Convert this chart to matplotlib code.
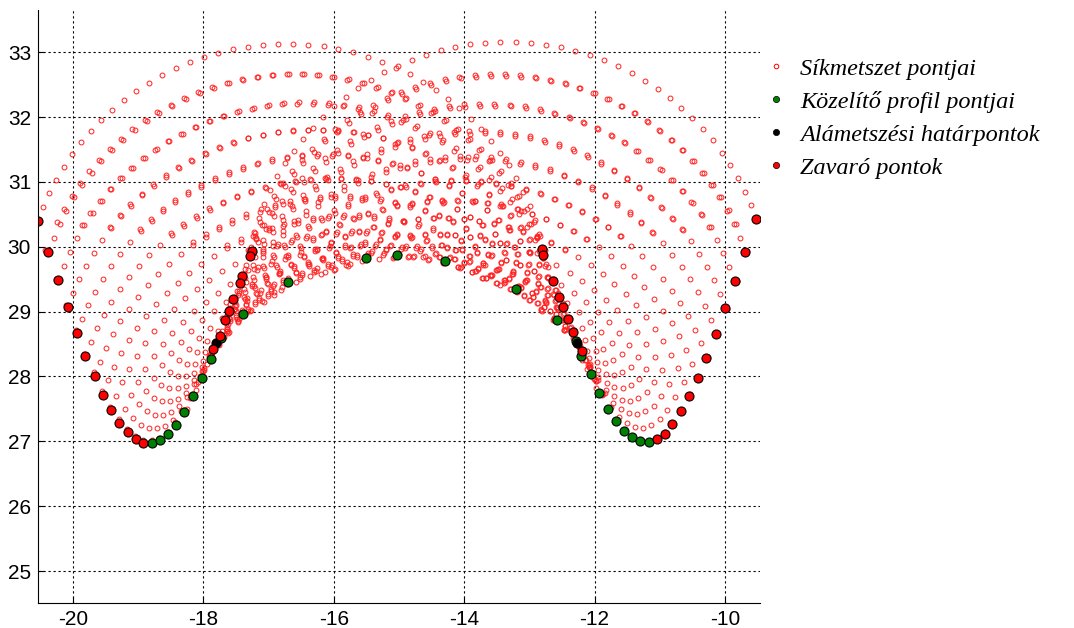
import numpy as np
import matplotlib.pyplot as plt
from matplotlib.path import Path
from matplotlib.lines import Line2D

plt.rcParams['axes.unicode_minus'] = False

# groove profiles: outer flank top -> bottom, inner flank bottom -> top
left_outer_x = [-20.54, -20.38, -20.225, -20.08, -19.94, -19.81, -19.67, -19.54, -19.42, -19.29, -19.16, -19.04, -18.92]
left_outer_y = [30.39, 29.92, 29.49, 29.07, 28.67, 28.31, 28.01, 27.72, 27.48, 27.28, 27.14, 27.03, 26.98]
left_inner_x = [-18.79, -18.67, -18.545, -18.42, -18.29, -18.16, -18.02, -17.89, -17.75, -17.60, -17.44, -17.28]
left_inner_y = [26.98, 27.02, 27.11, 27.25, 27.45, 27.70, 27.97, 28.27, 28.62, 29.01, 29.44, 29.90]
right_outer_x = [-9.525, -9.69, -9.85, -10.0, -10.14, -10.29, -10.42, -10.55, -10.68, -10.81, -10.92, -11.05, -11.17]
right_outer_y = [30.42, 29.92, 29.47, 29.05, 28.66, 28.29, 27.98, 27.70, 27.46, 27.27, 27.12, 27.03, 26.99]
right_inner_x = [-11.30, -11.42, -11.55, -11.67, -11.80, -11.93, -12.06, -12.21, -12.33, -12.48, -12.64, -12.80]
right_inner_y = [27.00, 27.06, 27.16, 27.31, 27.50, 27.75, 28.04, 28.32, 28.69, 29.07, 29.47, 29.92]

# circular translation of the profile (angles in degrees)
sweep_radius = 4.03
sweep_start = 161.3
sweep_end = 12.5
sweep_steps = 46

# approximating profile
green_x = [-18.79, -18.67, -18.545, -18.42, -18.29, -18.16, -18.02, -17.89, -17.73, -17.39, -16.70,
           -15.50, -15.03, -14.29, -13.20, -12.58, -12.29, -12.21, -12.06, -11.93, -11.80, -11.67,
           -11.55, -11.42, -11.30, -11.17]
green_y = [26.98, 27.02, 27.11, 27.25, 27.45, 27.70, 27.97, 28.27, 28.59, 28.96, 29.45,
           29.83, 29.87, 29.78, 29.35, 28.87, 28.55, 28.32, 28.04, 27.75, 27.50, 27.31,
           27.16, 27.06, 27.00, 26.99]

# undercut limit points
black_x = [-17.80, -12.27]
black_y = [28.52, 28.51]

# interfering points on the inner flanks
red_inner_x = [-17.26, -17.29, -17.41, -17.44, -17.55, -17.60, -17.67, -17.75, -17.86,
               -12.81, -12.79, -12.64, -12.54, -12.48, -12.41, -12.33, -12.19]
red_inner_y = [29.94, 29.86, 29.55, 29.44, 29.19, 29.01, 28.87, 28.62, 28.43,
               29.97, 29.88, 29.47, 29.22, 29.07, 28.89, 28.69, 28.39]
red_x = left_outer_x + right_outer_x[:-1] + red_inner_x
red_y = left_outer_y + right_outer_y[:-1] + red_inner_y


def sweep(px, py, phi):
    px, py = np.asarray(px), np.asarray(py)
    a = np.radians(phi)
    dx = sweep_radius * (np.cos(a) - np.cos(a[0]))
    dy = sweep_radius * (np.sin(a) - np.sin(a[0]))
    return (px[None, :] + dx[:, None]).ravel(), (py[None, :] + dy[:, None]).ravel()


def shrink(vx, vy, d):
    v = np.column_stack([vx, vy])
    c = v.mean(axis=0)
    w = c - v
    return v + d * w / np.linalg.norm(w, axis=1)[:, None]


uL_x, uL_y = left_outer_x + left_inner_x, left_outer_y + left_inner_y
uR_x, uR_y = right_outer_x + right_inner_x, right_outer_y + right_inner_y
path_L = Path(shrink(uL_x, uL_y, 0.05))
path_R = Path(shrink(uR_x, uR_y, 0.05))

# outer limit of the section
outer = ([(-20.8, 34.0), (-20.8, 30.8)]
         + [(x - 0.04, y) for x, y in zip(left_outer_x, left_outer_y)]
         + [(-18.92, 26.93), (-11.17, 26.93)]
         + [(x + 0.04, y) for x, y in zip(right_outer_x[::-1], right_outer_y[::-1])]
         + [(-9.3, 30.8), (-9.3, 34.0)])
path_out = Path(outer)

# material below the approximating profile
below = [(x, y - 0.04) for x, y in zip(green_x, green_y)] + [(-11.17, 26.0), (-18.79, 26.0)]
path_below = Path(below)

phi_L = np.linspace(sweep_start, sweep_end, sweep_steps)
phi_R = 180.0 - phi_L
xl, yl = sweep(uL_x, uL_y, phi_L)
xr, yr = sweep(uR_x, uR_y, phi_R)

pl = np.column_stack([xl, yl])
pr = np.column_stack([xr, yr])
keep_l = path_out.contains_points(pl) & ~path_R.contains_points(pl) & ~path_below.contains_points(pl)
keep_r = path_out.contains_points(pr) & ~path_L.contains_points(pr) & ~path_below.contains_points(pr)
sec_x = np.concatenate([xl[keep_l], xr[keep_r]])
sec_y = np.concatenate([yl[keep_l], yr[keep_r]])

fig = plt.figure(figsize=(10.74, 6.28), dpi=100)
ax = fig.add_axes([38 / 1074, 25 / 628, 722 / 1074, 593 / 628])

ax.plot(sec_x, sec_y, 'o', ms=3.5, mfc='none', mec='#ff2020', mew=0.7, ls='none')
ax.plot(green_x, green_y, 'o', ms=6.5, mfc='green', mec='black', mew=0.8, ls='none')
ax.plot(black_x, black_y, 'o', ms=6.5, mfc='black', mec='black', mew=0.8, ls='none')
ax.plot(red_x, red_y, 'o', ms=6.5, mfc='red', mec='black', mew=0.8, ls='none')

ax.set_xlim(-20.537, -9.463)
ax.set_ylim(24.507, 33.65)
ax.set_xticks(np.arange(-20, -9, 2))
ax.set_yticks(np.arange(25, 34, 1))
ax.grid(True, linestyle=(0, (2, 2.5)), color='black', lw=0.8)
ax.spines['top'].set_visible(False)
ax.spines['right'].set_visible(False)
ax.tick_params(direction='in', length=4, labelsize=15, pad=5)
for lab in ax.get_xticklabels() + ax.get_yticklabels():
    lab.set_fontfamily('Liberation Sans')

handles = [
    Line2D([], [], marker='o', ls='none', ms=3.3, mfc='none', mec='red', mew=0.7),
    Line2D([], [], marker='o', ls='none', ms=4.5, mfc='green', mec='black', mew=0.5),
    Line2D([], [], marker='o', ls='none', ms=4.5, mfc='black', mec='black', mew=0.5),
    Line2D([], [], marker='o', ls='none', ms=4.5, mfc='red', mec='black', mew=0.5),
]
labels = ['Síkmetszet pontjai', 'Közelítő profil pontjai', 'Alámetszési határpontok', 'Zavaró pontok']
fig.legend(handles, labels, loc='upper left', bbox_to_anchor=(742 / 1074, 1 - 36 / 628),
           frameon=False, handlelength=1.0, handletextpad=0.5, labelspacing=0.45,
           prop={'family': 'Liberation Serif', 'style': 'italic', 'size': 17.5})

fig.savefig('out.png', dpi=100)
